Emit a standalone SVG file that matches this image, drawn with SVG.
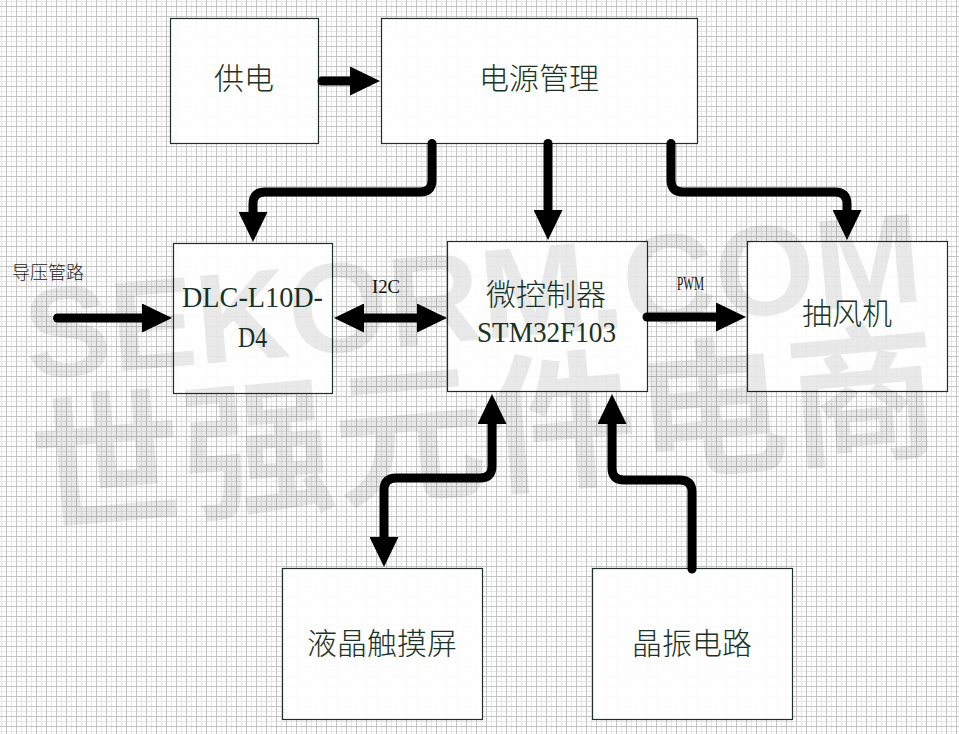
<svg xmlns="http://www.w3.org/2000/svg" width="959" height="734" viewBox="0 0 959 734">
<style>
.box{fill:#ffffff;fill-opacity:0.93;stroke:#1f2f27;stroke-width:1.2}
.cjk{font-family:"Noto Sans CJK SC","Noto Sans CJK JP",sans-serif;font-size:30px;font-weight:300;fill:#1a3326;text-anchor:middle}
.lat{font-family:"Liberation Serif",serif;font-size:30px;fill:#1a3326;text-anchor:middle}
.lbl{font-family:"Liberation Serif",serif;font-size:18px;fill:#111;text-anchor:middle}
.wire{fill:none;stroke:#000;stroke-width:9;stroke-linecap:round;stroke-linejoin:round}
.wm{fill:#000;fill-opacity:0.085}
</style>
<defs>
<pattern id="grid" width="10" height="10" patternUnits="userSpaceOnUse">
<rect x="0" y="1" width="10" height="1" fill="#e6e6e6"/>
<rect x="1" y="0" width="1" height="10" fill="#e6e6e6"/>
<rect x="0" y="6" width="10" height="1" fill="#c4c4c4"/>
<rect x="6" y="0" width="1" height="10" fill="#c4c4c4"/>
</pattern>
<marker id="ah" viewBox="0 0 30 29" refX="1" refY="14.5" markerWidth="30" markerHeight="29" markerUnits="userSpaceOnUse" orient="auto-start-reverse">
<path d="M0,0 L30,14.5 L0,29 z" fill="#000"/>
</marker>
</defs>
<rect width="959" height="734" fill="#ffffff"/>
<rect width="959" height="734" fill="url(#grid)"/>

<g id="node-gongdian"><rect class="box" x="170.5" y="18.5" width="148" height="125"/><text class="cjk" x="244" y="89">供电</text></g>
<g id="node-power"><rect class="box" x="381.5" y="18.5" width="316" height="125"/><text class="cjk" x="539" y="89">电源管理</text></g>
<g id="node-dlc"><rect class="box" x="173.5" y="243.5" width="159" height="150"/><text class="lat" x="252.5" y="307" textLength="141" lengthAdjust="spacingAndGlyphs">DLC-L10D-</text><text class="lat" x="252.5" y="347" textLength="29" lengthAdjust="spacingAndGlyphs">D4</text></g>
<g id="node-mcu"><rect class="box" x="447.5" y="241.5" width="200" height="150"/><text class="cjk" x="546" y="305">微控制器</text><text class="lat" x="546.5" y="342" textLength="139" lengthAdjust="spacingAndGlyphs">STM32F103</text></g>
<g id="node-fan"><rect class="box" x="747.5" y="241.5" width="200" height="150"/><text class="cjk" x="847" y="324">抽风机</text></g>
<g id="node-lcd"><rect class="box" x="282.5" y="568.5" width="200" height="151"/><text class="cjk" x="382" y="654">液晶触摸屏</text></g>
<g id="node-osc"><rect class="box" x="592.5" y="568.5" width="200" height="151"/><text class="cjk" x="692" y="654">晶振电路</text></g>
<g id="node-pipe"><text x="12" y="279" style="font-family:'Noto Sans CJK SC',sans-serif;font-size:18px;font-weight:300;fill:#222">导压管路</text></g>

<g id="watermark" transform="rotate(-5 480 400)">
<text class="wm" x="482" y="340" text-anchor="middle" textLength="900" lengthAdjust="spacingAndGlyphs" style="font-family:'Liberation Sans',sans-serif;font-weight:700;font-size:128px">SEKORM.COM</text>
<text class="wm" x="482" y="484" text-anchor="middle" textLength="910" lengthAdjust="spacingAndGlyphs" style="font-family:'Noto Sans CJK SC',sans-serif;font-weight:700;font-size:150px">世强元件电商</text>
</g>

<g id="connectors">
<path class="wire" d="M322,81 H351" marker-end="url(#ah)"/>
<path class="wire" d="M432,143.5 V180 Q432,192 420,192 H265 Q253,192 253,204 V213" marker-end="url(#ah)"/>
<path class="wire" d="M548,143.5 V211" marker-end="url(#ah)"/>
<path class="wire" d="M671,143.5 V180 Q671,192 683,192 H835 Q847,192 847,204 V211" marker-end="url(#ah)"/>
<path class="wire" d="M57.5,318 H143" marker-end="url(#ah)"/>
<path class="wire" d="M363,318 H418" marker-start="url(#ah)" marker-end="url(#ah)"/>
<path class="wire" d="M647,317 H717" marker-end="url(#ah)"/>
<path class="wire" d="M492,423 V466 Q492,478 480,478 H396 Q384,478 384,490 V538" marker-start="url(#ah)" marker-end="url(#ah)"/>
<path class="wire" d="M692,569 V492 Q692,480 680,480 H624 Q612,480 612,468 V423" marker-end="url(#ah)"/>
<text class="lbl" x="386" y="293" textLength="28" lengthAdjust="spacingAndGlyphs">I2C</text>
<text class="lbl" x="690.5" y="290" textLength="27" lengthAdjust="spacingAndGlyphs">PWM</text>
</g>
</svg>
